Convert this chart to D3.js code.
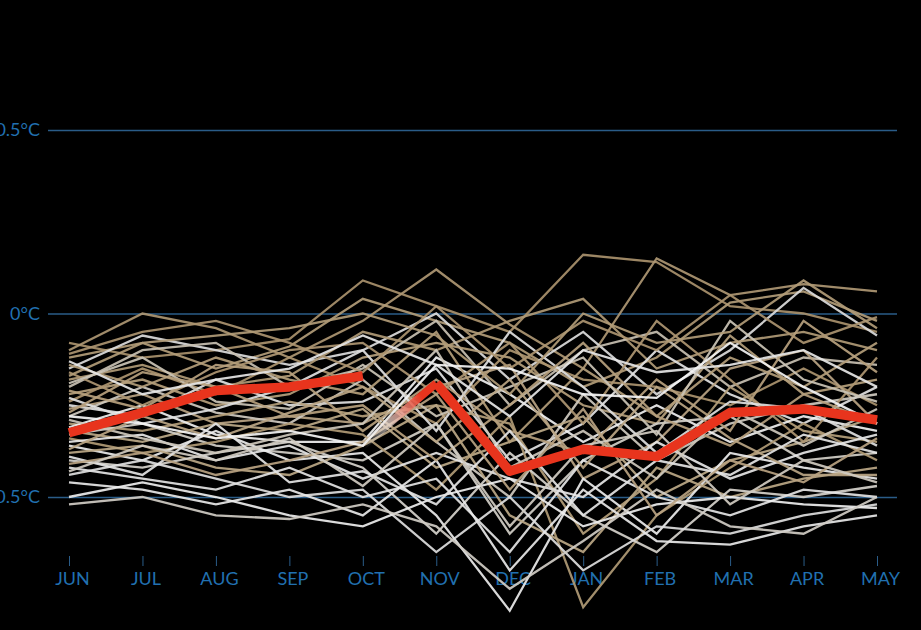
<!DOCTYPE html>
<html lang="en">
<head>
    <meta charset="UTF-8">
    <title>Monthly anomalies</title>
    <script src="https://cdn.jsdelivr.net/npm/d3@7"></script>
    <style>
        body { margin: 0; background: #000; }
        svg { display: block; background: #000; }
        svg g.axis text {
            font-family: Lato, sans-serif;
            font-size: 18px;
            fill: #2170b0;
        }
        svg g.axis line { stroke: #2a5c88; }
        svg g.axis path.domain { display: none; }
    </style>
</head>
<body>
    <script>
        // size of the picture
        var w = 921;
        var h = 630;

        // months, June to May
        var months = ['JUN', 'JUL', 'AUG', 'SEP', 'OCT', 'NOV', 'DEC', 'JAN', 'FEB', 'MAR', 'APR', 'MAY'];

        // gridline values
        var yTicks = [-0.5, 0, 0.5];

        // background years, values in °C, one row per year
        var years = [
            [-0.08, -0.12, -0.10, -0.07, 0.09, 0.02, -0.05, 0.16, 0.14, 0.02, 0.00, -0.05],
            [-0.10, 0.00, -0.04, -0.12, -0.02, 0.12, -0.03, -0.15, 0.15, 0.05, 0.08, 0.06],
            [-0.12, -0.08, -0.15, -0.09, 0.04, -0.02, -0.08, -0.20, -0.12, 0.03, 0.06, -0.02],
            [-0.15, -0.06, -0.10, -0.14, -0.10, 0.00, -0.18, -0.05, -0.22, -0.10, 0.07, -0.06],
            [-0.18, -0.14, -0.20, -0.17, -0.05, -0.10, -0.02, 0.04, -0.15, -0.08, -0.05, -0.10],
            [-0.20, -0.10, -0.08, -0.20, -0.15, -0.02, -0.25, -0.10, -0.05, -0.20, -0.12, -0.14],
            [-0.22, -0.18, -0.25, -0.22, -0.12, -0.08, -0.12, -0.25, -0.30, -0.06, -0.22, -0.18],
            [-0.24, -0.15, -0.22, -0.12, -0.20, -0.30, -0.10, -0.18, -0.20, -0.25, -0.15, -0.25],
            [-0.25, -0.28, -0.18, -0.25, -0.24, -0.15, -0.40, -0.30, -0.10, -0.22, -0.30, -0.20],
            [-0.26, -0.22, -0.30, -0.28, -0.30, -0.20, -0.14, -0.45, -0.35, -0.15, -0.10, -0.30],
            [-0.28, -0.20, -0.27, -0.30, -0.18, -0.35, -0.50, -0.22, -0.40, -0.30, -0.25, -0.22],
            [-0.30, -0.32, -0.28, -0.24, -0.28, -0.25, -0.30, -0.60, -0.45, -0.20, -0.32, -0.35],
            [-0.31, -0.25, -0.33, -0.35, -0.35, -0.12, -0.22, -0.35, -0.25, -0.35, -0.28, -0.32],
            [-0.32, -0.35, -0.30, -0.32, -0.26, -0.42, -0.35, -0.28, -0.50, -0.40, -0.35, -0.28],
            [-0.33, -0.30, -0.36, -0.38, -0.40, -0.30, -0.60, -0.40, -0.30, -0.28, -0.40, -0.38],
            [-0.34, -0.38, -0.35, -0.30, -0.33, -0.48, -0.28, -0.80, -0.55, -0.42, -0.30, -0.40],
            [-0.35, -0.33, -0.40, -0.36, -0.45, -0.38, -0.45, -0.50, -0.35, -0.45, -0.38, -0.33],
            [-0.36, -0.40, -0.32, -0.40, -0.38, -0.55, -0.81, -0.45, -0.60, -0.38, -0.42, -0.45],
            [-0.38, -0.36, -0.42, -0.44, -0.36, -0.25, -0.55, -0.65, -0.42, -0.50, -0.45, -0.42],
            [-0.40, -0.42, -0.38, -0.35, -0.42, -0.60, -0.38, -0.55, -0.65, -0.48, -0.50, -0.47],
            [-0.42, -0.45, -0.48, -0.42, -0.50, -0.45, -0.65, -0.40, -0.50, -0.55, -0.48, -0.50],
            [-0.44, -0.40, -0.45, -0.50, -0.48, -0.65, -0.50, -0.70, -0.58, -0.60, -0.55, -0.52],
            [-0.46, -0.48, -0.52, -0.48, -0.55, -0.40, -0.70, -0.48, -0.62, -0.63, -0.58, -0.55],
            [-0.50, -0.46, -0.50, -0.55, -0.58, -0.50, -0.45, -0.58, -0.52, -0.50, -0.52, -0.53],
            [-0.52, -0.50, -0.55, -0.56, -0.52, -0.58, -0.75, -0.62, -0.48, -0.58, -0.60, -0.50],
            [-0.14, -0.20, -0.12, -0.18, -0.22, -0.05, -0.35, -0.15, -0.28, -0.12, -0.20, -0.08],
            [-0.16, -0.25, -0.16, -0.10, -0.08, -0.22, -0.08, -0.30, -0.02, -0.18, -0.35, -0.12],
            [-0.19, -0.12, -0.24, -0.26, -0.14, -0.28, -0.20, -0.12, -0.33, -0.02, -0.18, -0.24],
            [-0.21, -0.26, -0.14, -0.16, -0.32, -0.18, -0.32, -0.38, -0.18, -0.32, -0.02, -0.16],
            [-0.23, -0.30, -0.26, -0.20, -0.10, -0.32, -0.05, -0.20, -0.38, -0.24, -0.26, -0.36],
            [-0.27, -0.16, -0.20, -0.28, -0.25, -0.40, -0.25, -0.08, -0.28, -0.36, -0.22, -0.30],
            [-0.29, -0.34, -0.38, -0.33, -0.30, -0.10, -0.42, -0.32, -0.45, -0.26, -0.36, -0.26],
            [-0.37, -0.28, -0.34, -0.27, -0.20, -0.35, -0.18, -0.42, -0.20, -0.34, -0.44, -0.44],
            [-0.39, -0.44, -0.30, -0.46, -0.43, -0.52, -0.32, -0.55, -0.40, -0.44, -0.33, -0.38],
            [-0.41, -0.38, -0.44, -0.40, -0.35, -0.22, -0.48, -0.26, -0.55, -0.40, -0.46, -0.34],
            [-0.43, -0.36, -0.40, -0.34, -0.47, -0.30, -0.58, -0.36, -0.32, -0.52, -0.40, -0.46],
            [-0.11, -0.05, -0.02, -0.08, -0.16, 0.02, -0.15, -0.02, -0.10, 0.05, -0.08, -0.01],
            [-0.17, -0.08, -0.06, -0.04, 0.00, -0.06, -0.22, 0.00, -0.08, -0.05, 0.09, -0.04],
            [-0.13, -0.22, -0.18, -0.15, -0.06, -0.14, -0.28, -0.10, -0.16, -0.14, -0.10, -0.20],
            [-0.28, -0.30, -0.34, -0.32, -0.36, -0.14, -0.15, -0.22, -0.23, -0.08, -0.20, -0.30]
        ];

        // colour of each background year, tan to white
        var yearColours = [
            '#a9916c', '#ae9773', '#b29c78', '#dcdcdc', '#b09a76', '#c8c0b2', '#b59f7c', '#ab946f',
            '#e2e2e2', '#b8a383', '#cfcac0', '#b49e7a', '#f0f0f0', '#bca988', '#d2cfc8', '#b09a75',
            '#e6e6e6', '#ececec', '#bba786', '#d6d3cc', '#e4e4e4', '#dedede', '#e8e8e8', '#eeeeee',
            '#d0ccc4', '#b39d79', '#ae9672', '#cbc4b6', '#b7a17e', '#e0e0e0', '#b6a07d', '#cdc7bb',
            '#baa584', '#e4e4e4', '#b8a281', '#d0cbc1', '#ab9470', '#b19b77', '#e6e6e6', '#f4f4f4'
        ];

        // highlighted year, split where it is being drawn
        var redFirst = [-0.325, -0.27, -0.21, -0.20, -0.17];         // JUN..OCT
        var redSecond = [-0.19, -0.43, -0.37, -0.39, -0.27, -0.26, -0.29]; // NOV..MAY
        var redJoinStart = -0.36;                                    // OCT value the fading joint starts from

        var xScale = d3.scalePoint()
                        .domain(months)
                        .range([69, 877]);

        var yScale = d3.scaleLinear()
                        .domain([-0.5, 0.5])
                        .range([497, 130]);

        var svg = d3.select('body')
                    .append('svg')
                    .attr('width', w)
                    .attr('height', h);

        //gridlines with labels
        var yAxis = d3.axisLeft(yScale)
                        .tickValues(yTicks)
                        .tickSize(-(897 - 48))
                        .tickPadding(8)
                        .tickFormat(function(d) { return String(d) + '°C'; });

        var yG = svg.append('g')
            .attr('class', 'axis')
            .attr('transform', 'translate(48,0)')
            .call(yAxis);
        yG.selectAll('line').attr('stroke-width', 1.5);

        //month axis
        var xAxis = d3.axisBottom(xScale)
                        .tickSize(10)
                        .tickPadding(6);

        svg.append('g')
            .attr('class', 'axis')
            .attr('transform', 'translate(0,556)')
            .call(xAxis)
            .selectAll('text')
            .attr('dx', 3);

        var line = d3.line()
                    .x(function(d) { return xScale(d[0]); })
                    .y(function(d) { return yScale(d[1]); });

        //background years
        svg.append('g')
            .selectAll('path')
            .data(years)
            .enter()
            .append('path')
            .attr('d', function(d) {
                return line(d.map(function(v, i) { return [months[i], v]; }));
            })
            .attr('fill', 'none')
            .attr('stroke', function(d, i) { return yearColours[i % yearColours.length]; })
            .attr('stroke-width', 2.3)
            .attr('stroke-linejoin', 'miter')
            .attr('opacity', 0.92);

        //fading joint between OCT and NOV
        var j0 = [xScale('OCT'), yScale(redJoinStart)];
        var j1 = [xScale('NOV'), yScale(redSecond[0])];
        var grad = svg.append('defs')
            .append('linearGradient')
            .attr('id', 'fade')
            .attr('gradientUnits', 'userSpaceOnUse')
            .attr('x1', j0[0]).attr('y1', j0[1])
            .attr('x2', j1[0]).attr('y2', j1[1]);
        grad.append('stop').attr('offset', '0%').attr('stop-color', '#ffffff').attr('stop-opacity', 0);
        grad.append('stop').attr('offset', '35%').attr('stop-color', '#f0e0d8').attr('stop-opacity', 0.7);
        grad.append('stop').attr('offset', '80%').attr('stop-color', '#e8341d');
        grad.append('stop').attr('offset', '100%').attr('stop-color', '#e8341d');

        svg.append('path')
            .attr('d', line([['OCT', redJoinStart], ['NOV', redSecond[0]]]))
            .attr('fill', 'none')
            .attr('stroke', 'url(#fade)')
            .attr('stroke-width', 8);

        //highlighted year
        var redParts = [
            redFirst.map(function(v, i) { return [months[i], v]; }),
            redSecond.map(function(v, i) { return [months[i + 5], v]; })
        ];

        svg.append('g')
            .selectAll('path')
            .data(redParts)
            .enter()
            .append('path')
            .attr('d', line)
            .attr('fill', 'none')
            .attr('stroke', '#e8341d')
            .attr('stroke-width', 9.5)
            .attr('stroke-linejoin', 'round');
    </script>
</body>
</html>
